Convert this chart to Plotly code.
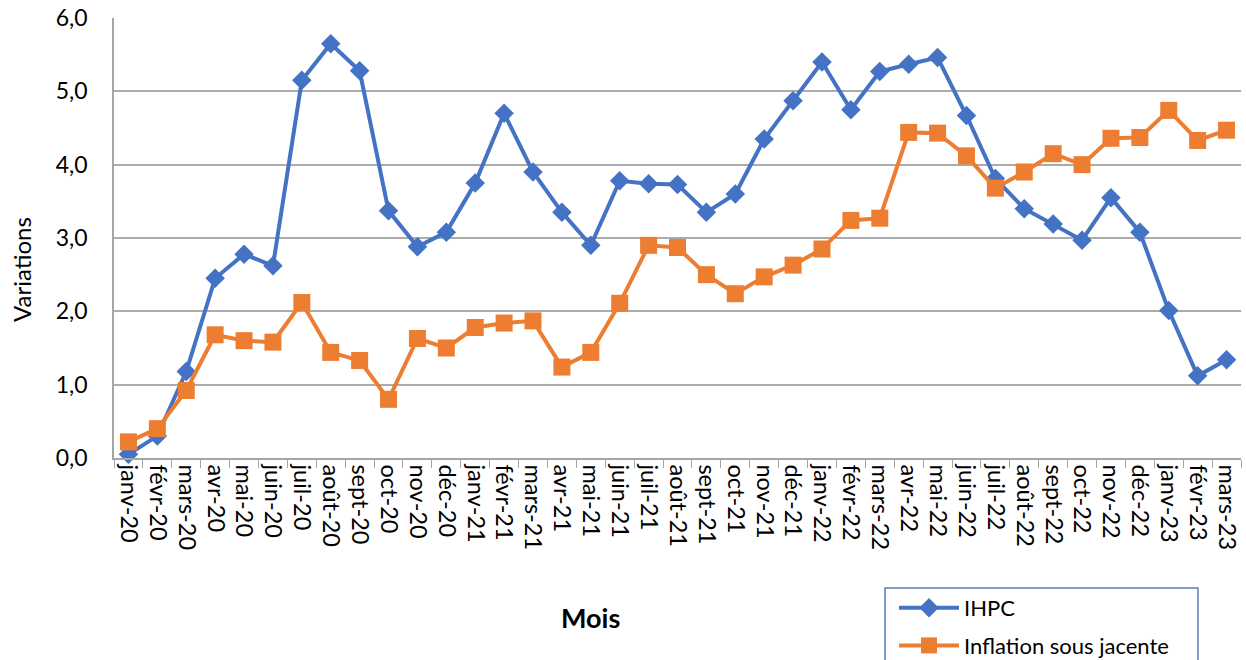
import plotly.graph_objects as go

mois = ["janv-20", "févr-20", "mars-20", "avr-20", "mai-20", "juin-20", "juil-20", "août-20", "sept-20",
        "oct-20", "nov-20", "déc-20", "janv-21", "févr-21", "mars-21", "avr-21", "mai-21", "juin-21",
        "juil-21", "août-21", "sept-21", "oct-21", "nov-21", "déc-21", "janv-22", "févr-22", "mars-22",
        "avr-22", "mai-22", "juin-22", "juil-22", "août-22", "sept-22", "oct-22", "nov-22", "déc-22",
        "janv-23", "févr-23", "mars-23"]

ihpc = [0.05, 0.30, 1.18, 2.45, 2.78, 2.62, 5.15, 5.65, 5.28,
        3.37, 2.88, 3.08, 3.75, 4.70, 3.90, 3.35, 2.90, 3.78,
        3.74, 3.73, 3.35, 3.60, 4.35, 4.87, 5.40, 4.75, 5.27,
        5.37, 5.46, 4.67, 3.81, 3.40, 3.19, 2.97, 3.55, 3.08,
        2.01, 1.12, 1.34]

inflation_sj = [0.22, 0.40, 0.92, 1.68, 1.60, 1.58, 2.12, 1.44, 1.33,
                0.80, 1.63, 1.50, 1.78, 1.84, 1.87, 1.24, 1.44, 2.11,
                2.90, 2.87, 2.50, 2.24, 2.47, 2.63, 2.85, 3.24, 3.27,
                4.44, 4.43, 4.12, 3.68, 3.90, 4.15, 4.00, 4.36, 4.37,
                4.74, 4.33, 4.47]

FONT = "Lato, 'Open Sans', sans-serif"
BLUE = "#4472C4"
ORANGE = "#ED7D31"

W, H = 1246, 660
L, R, T, B = 114, 5, 18, 202
PW, PH = W - L - R, H - T - B

fig = go.Figure()
fig.add_trace(go.Scatter(
    x=mois, y=ihpc, name="IHPC", mode="lines+markers",
    line=dict(color=BLUE, width=4),
    marker=dict(symbol="diamond", size=15, color=BLUE),
    cliponaxis=False, legendgroup="a",
))
fig.add_trace(go.Scatter(
    x=mois, y=inflation_sj, name="Inflation sous jacente", mode="lines+markers",
    line=dict(color=ORANGE, width=4),
    marker=dict(symbol="square", size=17, color=ORANGE),
    cliponaxis=False, legendgroup="b",
))

fig.update_layout(
    width=W, height=H,
    margin=dict(l=L, r=R, t=T, b=B, autoexpand=False),
    paper_bgcolor="white", plot_bgcolor="white",
    separators=", ",
    font=dict(family=FONT, size=20, color="black"),
    showlegend=True,
    legend=dict(
        xref="container", yref="container",
        x=894 / W, y=1 - 587 / H, xanchor="left", yanchor="top",
        font=dict(family=FONT, size=22, color="black"),
        bgcolor="rgba(0,0,0,0)", borderwidth=0,
        traceorder="grouped", tracegroupgap=6,
        itemwidth=60,
    ),
    xaxis=dict(
        type="category", range=[-0.5, 38.5],
        tickmode="linear", tick0=0, dtick=1,
        tickangle=90, tickfont=dict(family=FONT, size=23.5),
        showgrid=False, showline=True, linecolor="#A6A6A6", linewidth=1.5,
        ticks="outside", tickson="boundaries", ticklen=8, tickcolor="#A6A6A6",
        automargin=False,
    ),
    yaxis=dict(
        range=[0, 6], dtick=1, tickformat=".1f",
        tickfont=dict(family=FONT, size=23),
        showgrid=True, gridcolor="#ABABAB", gridwidth=1.5,
        showline=True, linecolor="#A6A6A6", linewidth=1.5,
        zeroline=False, ticks="", ticklabelstandoff=20,
        automargin=False,
    ),
    annotations=[
        dict(text="<b>Mois</b>", xref="paper", yref="paper",
             x=(590 - L) / PW, y=-(617 - (T + PH)) / PH,
             showarrow=False, xanchor="center", yanchor="middle",
             font=dict(family=FONT, size=27, color="black")),
        dict(text="Variations", xref="paper", yref="paper",
             x=(21 - L) / PW, y=(T + PH - 270) / PH,
             showarrow=False, xanchor="center", yanchor="middle", textangle=-90,
             font=dict(family=FONT, size=24, color="black")),
    ],
    shapes=[dict(
        type="rect", xref="paper", yref="paper",
        x0=(885 - L) / PW, x1=(1198 - L) / PW,
        y0=(T + PH - 662) / PH, y1=(T + PH - 588) / PH,
        line=dict(color="#5B7DB8", width=1.5), fillcolor="rgba(0,0,0,0)",
    )],
)

fig.write_html("out.html", config={"displayModeBar": False},
               post_script="document.body.style.margin='0';document.body.style.overflow='hidden';")
